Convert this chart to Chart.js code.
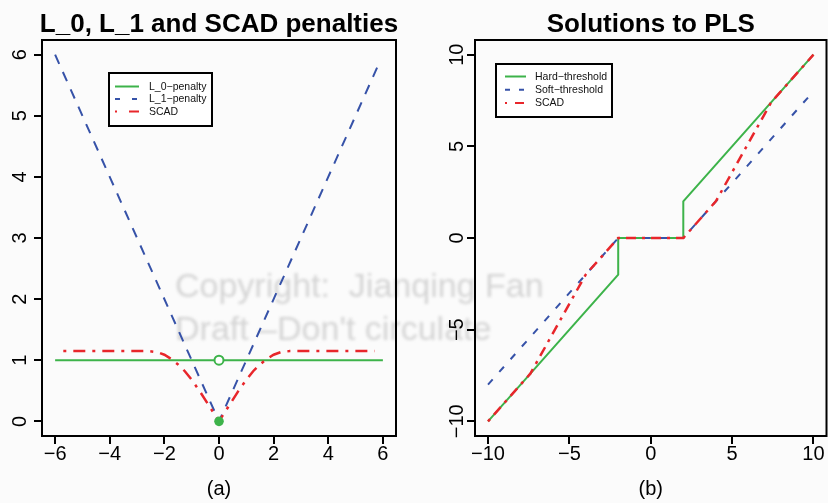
<!DOCTYPE html>
<html>
<head>
<meta charset="utf-8">
<script src="https://cdn.jsdelivr.net/npm/chart.js@4.4.1/dist/chart.umd.min.js"></script>
<style>
  html, body { margin: 0; padding: 0; background: #fbfbfb; }
  #wrap { position: relative; width: 828px; height: 503px; overflow: hidden;
          font-family: 'Liberation Sans', Arial, Helvetica, sans-serif; }
  .mark { position: absolute; left: 175px; color: #d4d4d4; font-size: 34px; line-height: 1;
          white-space: pre; filter: blur(1.6px); }
  canvas { position: absolute; top: 0; }
</style>
</head>
<body>
<div id="wrap">
  <div class="mark" style="top:268px">Copyright:  Jianqing Fan</div>
  <div class="mark" style="top:311px">Draft –Don't circulate</div>
  <canvas id="penalties" width="414" height="503" style="left:0"></canvas>
  <canvas id="solutions" width="414" height="503" style="left:414px"></canvas>
</div>
<script>
const FONT = "'Liberation Sans', Arial, Helvetica, sans-serif";
Chart.defaults.font.family = FONT;

// ---- Panel (a): penalty functions ----
const thetaL0 = [-6, 6];
const penaltyL0 = [1, 1];
const thetaL1 = [-6, 0, 5.9];
const penaltyL1 = [6, 0, 5.9];
const thetaScad = [-5.7, -2.59, -2.25, -2, -1.75, -1.5, -1.25, -1, -0.7, 0,
                   0.7, 1, 1.25, 1.5, 1.75, 2, 2.25, 2.59, 5.7];
const penaltyScad = [1.15, 1.15, 1.13, 1.09, 1.02, 0.93, 0.82, 0.68, 0.49, 0,
                     0.49, 0.68, 0.82, 0.93, 1.02, 1.09, 1.13, 1.15, 1.15];
const l0OpenX = [0], l0OpenY = [1];       // L_0 value just off zero
const l0FilledX = [0], l0FilledY = [0];   // L_0 value at zero
const xTicksA = [-6, -4, -2, 0, 2, 4, 6];
const yTicksA = [0, 1, 2, 3, 4, 5, 6];

// ---- Panel (b): thresholding rules ----
const zHard = [-10, -2, -2, 2, 2, 10];
const fitHard = [-10, -2, 0, 0, 2, 10];
const zSoft = [-10, -2, 2, 10];
const fitSoft = [-8, 0, 0, 8];
const zScad = [-10, -7.4, -4, -2, 2, 4, 7.4, 10];
const fitScad = [-10, -7.4, -2, 0, 0, 2, 7.4, 10];
const ticksB = [-10, -5, 0, 5, 10];

const GREEN = '#3db34a', BLUE = '#3652a8', RED = '#e8262b';

const pts = (xs, ys) => xs.map((x, i) => ({ x, y: ys[i] }));
const fmt = v => (v < 0 ? '\u2212' + (-v) : String(v));

function lineSet(label, xs, ys, color, width, dash, order) {
  return { label, data: pts(xs, ys), showLine: true, borderColor: color, borderWidth: width,
           borderDash: dash, pointRadius: 0, pointHoverRadius: 0, order, fill: false };
}

function axis(horizontal, min, max, ticks, size, pad, title) {
  return {
    type: 'linear', min, max,
    position: horizontal ? 'bottom' : 'left',
    afterBuildTicks: s => { s.ticks = ticks.map(v => ({ value: v })); },
    afterFit: s => { if (horizontal) s.height = size; else s.width = size; },
    grid: { display: true, drawOnChartArea: false, drawTicks: true, tickLength: 8,
            color: '#000', lineWidth: 2 },
    border: { display: false },
    ticks: {
      color: '#000', font: { size: 20 }, padding: pad, autoSkip: false,
      minRotation: horizontal ? 0 : 90, maxRotation: horizontal ? 0 : 90,
      crossAlign: horizontal ? 'near' : 'center',
      callback: v => fmt(v)
    },
    title: title ? { display: true, text: title, color: '#000', font: { size: 20 },
                     padding: { top: 0, bottom: 2 } } : { display: false }
  };
}

// frame, panel title and legend box
const framePlugin = {
  id: 'frame',
  afterDraw(chart, args, o) {
    const { ctx, chartArea: a } = chart;
    ctx.save();
    ctx.strokeStyle = '#000';
    ctx.lineWidth = 2;
    ctx.strokeRect(a.left, a.top, a.right - a.left, a.bottom - a.top);

    ctx.fillStyle = '#000';
    ctx.font = `bold 26px ${FONT}`;
    ctx.textAlign = 'center';
    ctx.textBaseline = 'alphabetic';
    ctx.fillText(o.title, (a.left + a.right) / 2, 32);

    const L = o.legend;
    ctx.fillStyle = '#ffffff';
    ctx.fillRect(L.x, L.y, L.w, L.h);
    ctx.strokeStyle = '#000';
    ctx.lineWidth = 2;
    ctx.strokeRect(L.x, L.y, L.w, L.h);
    L.items.forEach((idx, i) => {
      const ds = chart.data.datasets[idx];
      const y = L.y + L.first + i * L.step;
      ctx.beginPath();
      ctx.strokeStyle = ds.borderColor;
      ctx.lineWidth = 2;
      ctx.setLineDash(ds.legendDash || []);
      ctx.moveTo(L.x0, y);
      ctx.lineTo(L.x1, y);
      ctx.stroke();
      ctx.setLineDash([]);
      ctx.fillStyle = '#111';
      ctx.font = `10.5px ${FONT}`;
      ctx.textAlign = 'left';
      ctx.textBaseline = 'middle';
      ctx.fillText(ds.label, L.tx, y + 0.5);
    });
    ctx.restore();
  }
};

function baseOptions(scales, frame, padRight) {
  return {
    responsive: false, animation: false, events: [],
    layout: { padding: { top: 40, right: padRight, bottom: 0, left: 0 } },
    scales,
    plugins: { legend: { display: false }, tooltip: { enabled: false }, frame }
  };
}

// Panel (a)
const dsL0 = lineSet('L_0\u2212penalty', thetaL0, penaltyL0, GREEN, 2, [], 5);
const dsL1 = lineSet('L_1\u2212penalty', thetaL1, penaltyL1, BLUE, 2, [10, 9], 4);
dsL1.legendDash = [5, 12];
const dsScadA = lineSet('SCAD', thetaScad, penaltyScad, RED, 2.5, [3, 7, 12, 7], 3);
dsScadA.legendDash = [2, 12, 10, 8];
new Chart(document.getElementById('penalties'), {
  type: 'scatter',
  data: {
    datasets: [
      dsL0, dsL1, dsScadA,
      { label: 'open', data: pts(l0OpenX, l0OpenY), pointRadius: 4.5, pointBorderWidth: 2,
        pointBorderColor: GREEN, pointBackgroundColor: '#ffffff', order: 2 },
      { label: 'filled', data: pts(l0FilledX, l0FilledY), pointRadius: 4.8, pointBorderWidth: 0,
        pointBackgroundColor: GREEN, order: 1 }
    ]
  },
  plugins: [framePlugin],
  options: baseOptions({
    x: axis(true, -6.48, 6.48, xTicksA, 67, -1.5, '(a)'),
    y: axis(false, -0.24, 6.24, yTicksA, 42, 8.2)
  }, {
    title: 'L_0, L_1 and SCAD penalties',
    legend: { x: 109, y: 73, w: 103, h: 53, first: 13.5, step: 12.5, x0: 115, x1: 139, tx: 149,
              items: [0, 1, 2] }
  }, 18)
});

// Panel (b)
const dsHard = lineSet('Hard\u2212threshold', zHard, fitHard, GREEN, 2, [], 3);
const dsSoft = lineSet('Soft\u2212threshold', zSoft, fitSoft, BLUE, 2, [7, 10], 2);
dsSoft.legendDash = [5, 9];
const dsScadB = lineSet('SCAD', zScad, fitScad, RED, 2.5, [3, 6, 10, 6], 1);
dsScadB.legendDash = [2, 8, 9, 8];
new Chart(document.getElementById('solutions'), {
  type: 'scatter',
  data: { datasets: [dsHard, dsSoft, dsScadB] },
  plugins: [framePlugin],
  options: baseOptions({
    x: axis(true, -10.8, 10.8, ticksB, 67, -1.5, '(b)'),
    y: axis(false, -10.8, 10.8, ticksB, 61, -7.5)
  }, {
    title: 'Solutions to PLS',
    legend: { x: 82, y: 64, w: 116, h: 53, first: 12.5, step: 13.3, x0: 91, x1: 112, tx: 121,
              items: [0, 1, 2] }
  }, 1.5)
});
</script>
</body>
</html>
